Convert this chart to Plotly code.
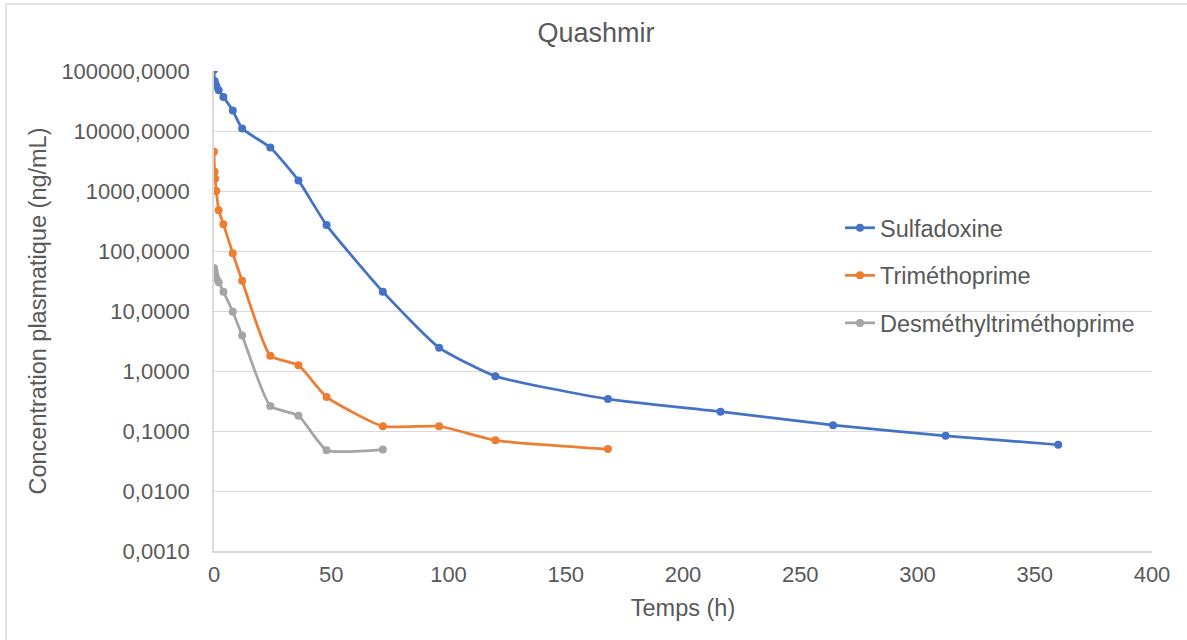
import plotly.graph_objects as go

title = "Quashmir"
x_title = "Temps (h)"
y_title = "Concentration plasmatique (ng/mL)"

sulfa_t = [0, 0.25, 0.5, 1, 2, 4, 8, 12, 24, 36, 48, 72, 96, 120, 168, 216, 264, 312, 360]
sulfa_c = [105000, 68000, 62000, 56000, 48000, 37000, 22000, 11000, 5300, 1500, 270, 21, 2.45, 0.82, 0.34, 0.21, 0.125, 0.083, 0.059]

tmp_t = [0, 0.25, 0.5, 1, 2, 4, 8, 12, 24, 36, 48, 72, 96, 120, 168]
tmp_c = [4500, 2100, 1600, 1000, 480, 280, 92, 32, 1.8, 1.25, 0.37, 0.12, 0.12, 0.07, 0.05]

dmt_t = [0, 0.25, 0.5, 1, 2, 4, 8, 12, 24, 36, 48, 72]
dmt_c = [52, 46, 40, 35, 30, 21, 9.7, 3.9, 0.26, 0.18, 0.048, 0.049]

names = ["Sulfadoxine", "Triméthoprime", "Desméthyltriméthoprime"]
colors = ["#4472C4", "#ED7D31", "#A5A5A5"]

y_tickvals = [0.001, 0.01, 0.1, 1, 10, 100, 1000, 10000, 100000]
y_ticktext = ["0,0010", "0,0100", "0,1000", "1,0000", "10,0000", "100,0000",
              "1000,0000", "10000,0000", "100000,0000"]
x_tickvals = [0, 50, 100, 150, 200, 250, 300, 350, 400]

font = "Liberation Sans, Arial, sans-serif"
grey = "#595959"

fig = go.Figure()
for t, c, n, col in zip([sulfa_t, tmp_t, dmt_t], [sulfa_c, tmp_c, dmt_c], names, colors):
    fig.add_trace(go.Scatter(
        x=t, y=c, name=n, legendgroup=n, mode="lines+markers",
        line=dict(color=col, width=2.75, shape="spline", smoothing=0.5),
        marker=dict(color=col, size=8),
    ))

W, H = 1187, 640
L, R, T, B = 214, 35, 71, 89
pw, ph = W - L - R, H - T - B

def px_to_paper_x(px):
    return (px - L) / pw

def px_to_paper_y(py):
    return (H - B - py) / ph

fig.update_layout(
    width=W, height=H,
    margin=dict(l=L, r=R, t=T, b=B),
    paper_bgcolor="white", plot_bgcolor="white",
    font=dict(family=font, color=grey, size=22),
    title=dict(text=title, x=596 / W, xanchor="center",
               y=1 - 33 / H, yanchor="middle",
               font=dict(size=27, color=grey, family=font)),
    xaxis=dict(range=[0, 400], tickvals=x_tickvals, showgrid=False, zeroline=False,
               showline=True, linecolor="#d9d9d9", linewidth=1.5, ticks="",
               ticklabelstandoff=3,
               tickfont=dict(size=22, color=grey),
               title=dict(text=x_title, font=dict(size=23.5, color=grey), standoff=13)),
    yaxis=dict(type="log", range=[-3, 5], tickvals=y_tickvals, ticktext=y_ticktext,
               showgrid=True, gridcolor="#d9d9d9", gridwidth=1, zeroline=False,
               showline=True, linecolor="#d9d9d9", linewidth=1.5, ticks="",
               ticklabelstandoff=18,
               tickfont=dict(size=22, color=grey),
               title=dict(text=y_title, font=dict(size=23.5, color=grey), standoff=8)),
    legend=dict(x=px_to_paper_x(840), y=px_to_paper_y(206), xanchor="left", yanchor="top",
                font=dict(size=23.5, color=grey), bgcolor="rgba(0,0,0,0)",
                tracegroupgap=14, itemwidth=30),
    showlegend=True,
)

# outer chart border (Excel-style), extending past the image on right/bottom
fig.add_shape(type="line", xref="paper", yref="paper",
              x0=px_to_paper_x(6), x1=px_to_paper_x(1200),
              y0=px_to_paper_y(4), y1=px_to_paper_y(4),
              line=dict(color="#d9d9d9", width=1.5))
fig.add_shape(type="line", xref="paper", yref="paper",
              x0=px_to_paper_x(6), x1=px_to_paper_x(6),
              y0=px_to_paper_y(4), y1=px_to_paper_y(660),
              line=dict(color="#d9d9d9", width=1.5))

fig.write_html("out.html", config={"displayModeBar": False},
               post_script="document.body.style.margin='0px';")
